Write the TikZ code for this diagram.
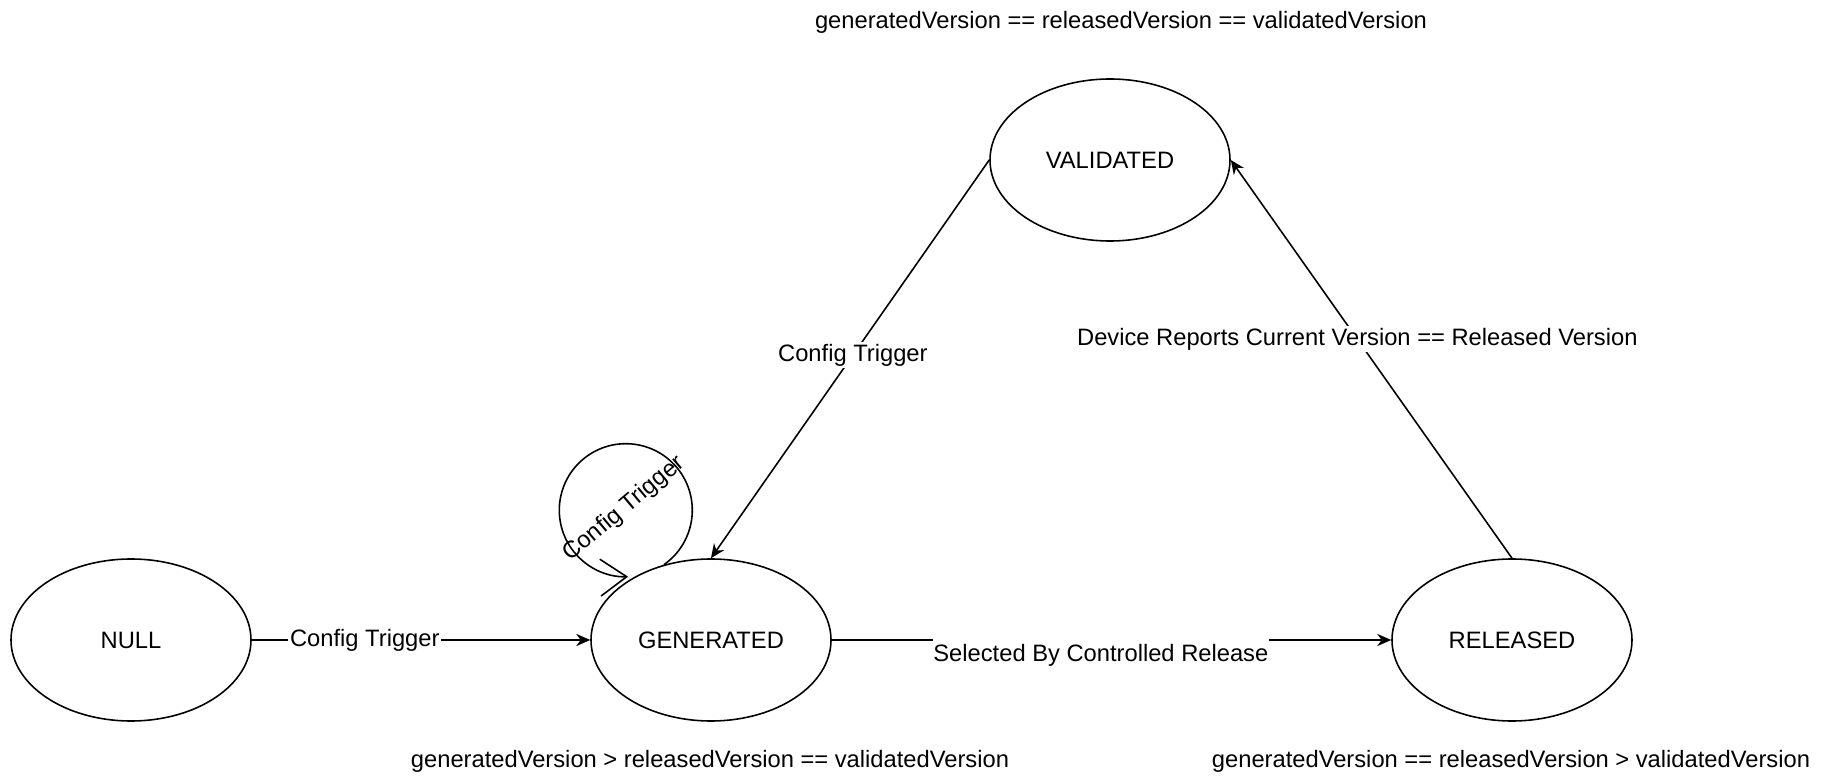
\documentclass[tikz,border=0pt]{standalone}
\usepackage{fontspec}
\setmainfont{Liberation Sans}
\usetikzlibrary{shapes.geometric,arrows.meta}

\begin{document}
\begin{tikzpicture}[font=\fontsize{13.5}{16}\selectfont,line width=0.9pt,
	state/.style={draw,ellipse,minimum width=4.8cm,minimum height=3.24cm,inner sep=0pt},
	trans/.style={-{Stealth[length=8pt,width=7pt]}},
	edgelbl/.style={fill=white,inner sep=1pt}]
			\useasboundingbox(0,0)rectangle(36.5,15.58);
			\node[state](null)at(2.62,2.78){NULL};
			\node[state](gen)at(14.22,2.78){GENERATED};
			\node[state](rel)at(30.24,2.78){RELEASED};
			\node[state](val)at(22.2,12.38){VALIDATED};
			\node(condval)at(22.42,15.14){generatedVersion == releasedVersion == validatedVersion};
			\node(condgen)at(14.2,0.36){generatedVersion > releasedVersion == validatedVersion};
			\node(condrel)at(30.22,0.36){generatedVersion == releasedVersion > validatedVersion};
			\draw[trans](null)--node[edgelbl,pos=0.334](lblnull){Config Trigger}(gen);
			\draw[trans](gen)--node[edgelbl,pos=0.481,anchor=base,yshift=-0.43cm,inner ysep=4pt,inner xsep=0.5pt](lblrel){Selected By Controlled Release}(rel);
			\draw[trans](val.west)--node[edgelbl,pos=0.49](lblval){Config Trigger}(gen.north);
			\draw[trans](rel.north)--node[edgelbl,pos=0.55](lbldev){Device Reports Current Version == Released Version}(val.east);
			\draw[-{Straight Barb[length=15pt,width=21pt]}](gen.122)arc[start angle=-55,end angle=272,radius=1.33];
			\node[rotate=40](lblloop)at(12.48,5.4){Config Trigger};
		\end{tikzpicture}
\end{document}
